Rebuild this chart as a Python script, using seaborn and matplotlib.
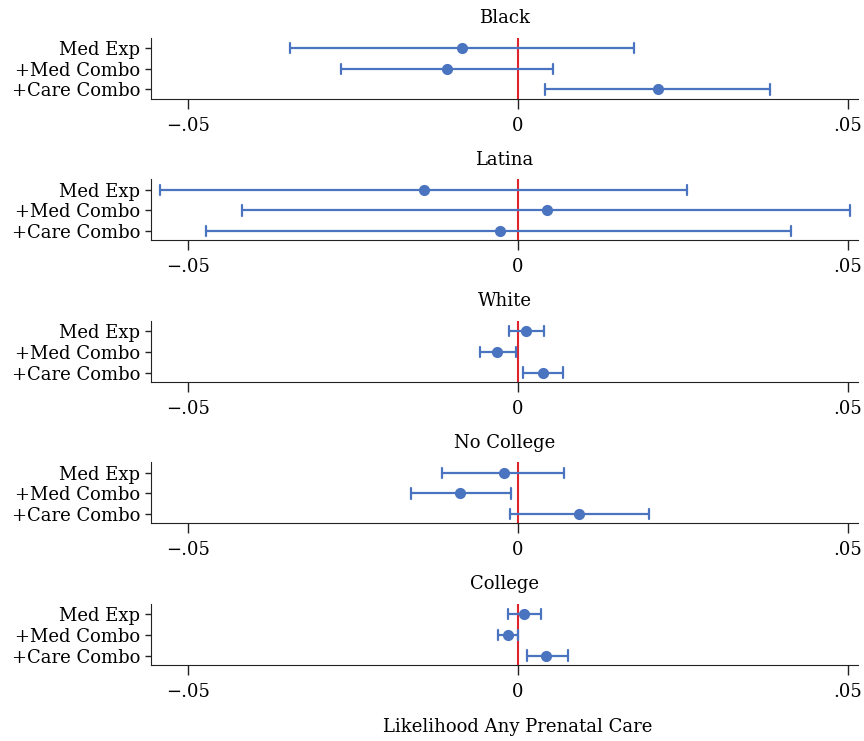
import pandas as pd
import matplotlib
matplotlib.use('Agg')
import matplotlib.pyplot as plt
import seaborn as sns

# estimaciones y intervalos
modelos = ['Med Exp', '+Med Combo', '+Care Combo']
grupos = ['Black', 'Latina', 'White', 'No College', 'College']

black_est = [-0.0085, -0.0108, 0.0212]
black_lo = [-0.0345, -0.0268, 0.0041]
black_hi = [0.0176, 0.0053, 0.0382]

latina_est = [-0.0143, 0.0044, -0.0027]
latina_lo = [-0.0542, -0.0418, -0.0473]
latina_hi = [0.0256, 0.0503, 0.0414]

white_est = [0.0012, -0.0032, 0.0037]
white_lo = [-0.0014, -0.0058, 0.0007]
white_hi = [0.0039, -0.0003, 0.0068]

nocol_est = [-0.0022, -0.0088, 0.0093]
nocol_lo = [-0.0116, -0.0163, -0.0013]
nocol_hi = [0.0070, -0.0011, 0.0199]

col_est = [0.0009, -0.0016, 0.0043]
col_lo = [-0.0015, -0.0030, 0.0013]
col_hi = [0.0034, 0.0000, 0.0075]

xticks = [-0.05, 0, 0.05]
xticklabels = ['\u2212.05', '0', '.05']

datos = {
    'Black': (black_lo, black_est, black_hi),
    'Latina': (latina_lo, latina_est, latina_hi),
    'White': (white_lo, white_est, white_hi),
    'No College': (nocol_lo, nocol_est, nocol_hi),
    'College': (col_lo, col_est, col_hi),
}

# formato largo: lo, est, hi por modelo -> mediana = est, rango = IC
filas = []
for g in grupos:
    lo, est, hi = datos[g]
    for i, m in enumerate(modelos):
        for v in (lo[i], est[i], hi[i]):
            filas.append({'grupo': g, 'modelo': m, 'valor': v})
df = pd.DataFrame(filas)

sns.set_style('ticks')
plt.rcParams['font.family'] = ['DejaVu Serif']
plt.rcParams['font.size'] = 13
plt.rcParams['text.color'] = 'black'
plt.rcParams['xtick.labelcolor'] = 'black'
plt.rcParams['ytick.labelcolor'] = 'black'
plt.rcParams['axes.labelcolor'] = 'black'

azul = '#4a74c0'
rojo = '#e0242c'

fig, axes = plt.subplots(5, 1, figsize=(8.64, 7.41), dpi=100)
plt.subplots_adjust(left=0.175, right=0.993, top=0.949, bottom=0.1026, hspace=1.32)

for ax, g in zip(axes, grupos):
    sub = df[df['grupo'] == g]
    sns.pointplot(data=sub, x='valor', y='modelo', order=modelos, orient='h',
                  estimator='median', errorbar=('pi', 100), color=azul,
                  linestyle='none', capsize=0.5, markersize=6,
                  err_kws={'linewidth': 1.6}, ax=ax)
    ax.axvline(0, color=rojo, linewidth=1.5, zorder=0)
    ax.set_xlim(-0.0556, 0.0515)
    ax.set_ylim(2.45, -0.5)
    ax.set_xticks(xticks)
    ax.set_xticklabels(xticklabels)
    ax.set_title(g, fontsize=13, pad=10.5, color='black')
    ax.set_xlabel('')
    ax.set_ylabel('')
    ax.tick_params(axis='x', length=7, width=1, pad=6, labelsize=13, color='#222222')
    ax.tick_params(axis='y', length=4, width=1, pad=4, labelsize=13, color='#222222')
    sns.despine(ax=ax)
    for s in ['left', 'bottom']:
        ax.spines[s].set_color('#222222')

axes[-1].set_xlabel('Likelihood Any Prenatal Care', fontsize=13)
axes[-1].xaxis.set_label_coords(0.518, -0.87)

fig.savefig('out.png', dpi=100)
